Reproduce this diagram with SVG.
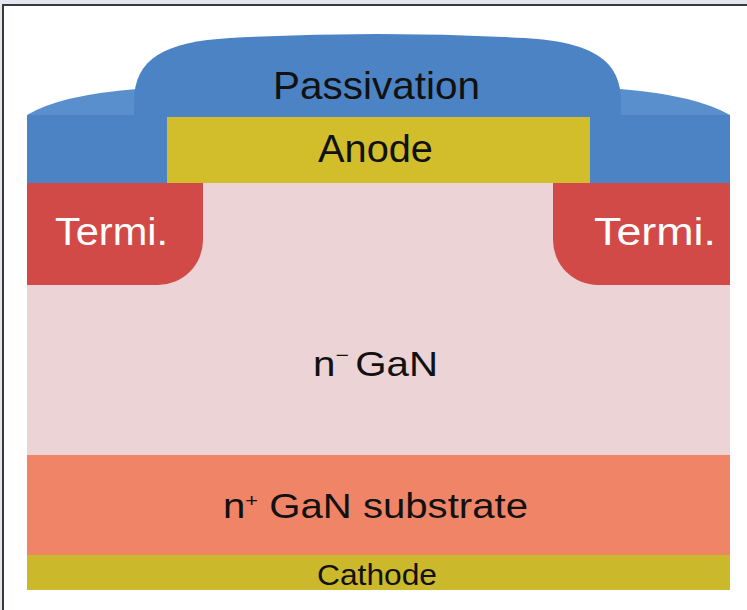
<svg xmlns="http://www.w3.org/2000/svg" width="747" height="610" viewBox="0 0 747 610">
  <style>
    .lbl { font-family: "Liberation Sans", Arial, sans-serif; text-anchor: middle; fill: #111; }
    .lbl-w { font-family: "Liberation Sans", Arial, sans-serif; text-anchor: middle; fill: #fff; }
    .blue { fill: #4b83c5; }
    .blue-top { fill: #5a8fce; }
  </style>

  <!-- page and frame -->
  <rect x="0" y="0" width="747" height="610" fill="#e3e7ee"/>
  <rect x="3" y="5" width="760" height="620" fill="#ffffff" stroke="#3a3a3a" stroke-width="2"/>

  <!-- cathode metal -->
  <g id="cathode">
    <rect x="27" y="555" width="703" height="35" fill="#cbb92b"/>
    <text class="lbl" x="377" y="585" font-size="29" textLength="120" lengthAdjust="spacingAndGlyphs">Cathode</text>
  </g>

  <!-- n+ substrate -->
  <g id="substrate">
    <rect x="27" y="455" width="703" height="100" fill="#f08467"/>
    <text class="lbl" x="375.5" y="518" font-size="35" textLength="305" lengthAdjust="spacingAndGlyphs">n<tspan font-size="19" dy="-11">+</tspan><tspan dy="11"> GaN substrate</tspan></text>
  </g>

  <!-- n- drift layer -->
  <g id="drift">
    <rect x="27" y="183" width="703" height="272" fill="#ebd3d6"/>
    <text class="lbl" x="375.5" y="376" font-size="35" textLength="125" lengthAdjust="spacingAndGlyphs">n<tspan font-size="20" dy="-14">−</tspan><tspan dy="14" font-size="20"> </tspan><tspan>GaN</tspan></text>
  </g>

  <!-- edge termination regions -->
  <g id="term-left">
    <path d="M27,183 H203 V240 A45,45 0 0 1 158,285 H27 Z" fill="#d24a48"/>
    <text class="lbl-w" x="111.5" y="245" font-size="39" textLength="113" lengthAdjust="spacingAndGlyphs">Termi.</text>
  </g>
  <g id="term-right">
    <path d="M553,183 H730 V285 H598 A45,45 0 0 1 553,240 Z" fill="#d24a48"/>
    <text class="lbl-w" x="655" y="245" font-size="39" textLength="122" lengthAdjust="spacingAndGlyphs">Termi.</text>
  </g>

  <!-- passivation dielectric -->
  <g id="passivation">
    <rect class="blue" x="27" y="115" width="110" height="68"/>
    <path class="blue-top" d="M27,115 Q60,95 137,89 L137,115 Z"/>
    <rect class="blue" x="620" y="115" width="110" height="68"/>
    <path class="blue-top" d="M620,89 Q695,95 730,115 L620,115 Z"/>
    <path class="blue" d="M134,183 L134,102 C134,58 165,42 230,38 Q377,30 525,38 C592,42 621,60 621,102 L621,183 Z"/>
    <text class="lbl" x="376.5" y="99" font-size="39" textLength="207" lengthAdjust="spacingAndGlyphs">Passivation</text>
  </g>

  <!-- anode metal -->
  <g id="anode">
    <rect x="167" y="117" width="423" height="66" fill="#d2bd2a"/>
    <text class="lbl" x="375.5" y="162" font-size="39" textLength="115" lengthAdjust="spacingAndGlyphs">Anode</text>
  </g>

  <g id="connectors"/>
</svg>
